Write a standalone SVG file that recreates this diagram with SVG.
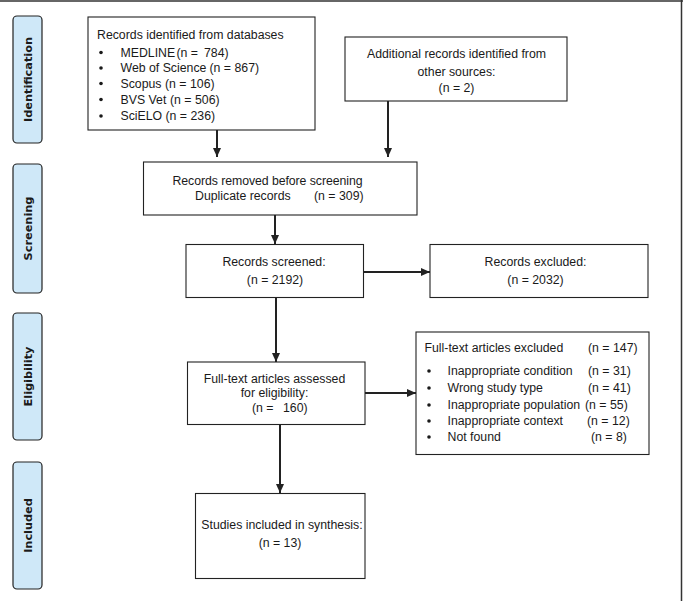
<svg xmlns="http://www.w3.org/2000/svg" width="683" height="601" viewBox="0 0 683 601">
<style>
.box{fill:#fff;stroke:#222;stroke-width:1.1}
.phase{fill:#cfe8f8;stroke:#222;stroke-width:1.2}
.t{font-family:"Liberation Sans",Arial,sans-serif;font-size:12.3px;fill:#1a1a1a}
.c{text-anchor:middle}
.pl{font-family:"DejaVu Sans","Liberation Sans",sans-serif;font-weight:bold;font-size:11.3px;fill:#1a1a1a;text-anchor:middle}
.ln{stroke:#222;stroke-width:2;fill:none}
</style>
<defs>
<marker id="ah" markerUnits="userSpaceOnUse" markerWidth="10" markerHeight="10" refX="9" refY="5" orient="auto">
<path d="M0,1 L9,5 L0,9 Z" fill="#222"/>
</marker>
</defs>
<rect width="683" height="601" fill="#fff"/>
<line x1="0" y1="1" x2="683" y2="1" stroke="#333" stroke-width="1.5"/>
<line x1="681.5" y1="0" x2="681.5" y2="601" stroke="#333" stroke-width="1.5"/>

<g id="phase-identification">
<rect class="phase" x="13" y="16" width="29" height="127" rx="4"/>
<text class="pl" transform="translate(31.5,79.5) rotate(-90)">Identification</text>
</g>
<g id="phase-screening">
<rect class="phase" x="13" y="164" width="29" height="129" rx="4"/>
<text class="pl" transform="translate(31.5,228.5) rotate(-90)">Screening</text>
</g>
<g id="phase-eligibility">
<rect class="phase" x="13" y="313" width="29" height="127" rx="4"/>
<text class="pl" transform="translate(31.5,376.5) rotate(-90)">Eligibility</text>
</g>
<g id="phase-included">
<rect class="phase" x="13" y="462" width="29" height="127" rx="4"/>
<text class="pl" transform="translate(31.5,525.5) rotate(-90)">Included</text>
</g>

<g id="databases">
<rect class="box" x="88" y="17" width="227" height="113"/>
<text class="t" x="97" y="38.5">Records identified from databases</text>
<g fill="#1a1a1a">
<circle cx="101" cy="52.5" r="1.8"/>
<circle cx="101" cy="68" r="1.8"/>
<circle cx="101" cy="83.5" r="1.8"/>
<circle cx="101" cy="99.5" r="1.8"/>
<circle cx="101" cy="116" r="1.8"/>
</g>
<text class="t" x="120.5" y="56.5">MEDLINE <tspan x="176.5">(n =</tspan><tspan x="204">784)</tspan></text>
<text class="t" x="120.5" y="72">Web of Science <tspan x="209.5">(n = 867)</tspan></text>
<text class="t" x="120.5" y="87.5">Scopus <tspan x="165">(n = 106)</tspan></text>
<text class="t" x="120.5" y="103.5">BVS Vet <tspan x="170">(n = 506)</tspan></text>
<text class="t" x="120.5" y="120">SciELO <tspan x="165.5">(n = 236)</tspan></text>
</g>

<g id="additional">
<rect class="box" x="345" y="37" width="222" height="64"/>
<text class="t c" x="456.5" y="58">Additional records identified from</text>
<text class="t c" x="456.5" y="75.5">other sources:</text>
<text class="t c" x="456.5" y="92">(n = 2)</text>
</g>

<g id="removed">
<rect class="box" x="143.5" y="162" width="273.5" height="53"/>
<text class="t" x="172.5" y="185" textLength="190">Records removed before screening</text>
<text class="t" x="195" y="200">Duplicate records</text>
<text class="t" x="314" y="200">(n = 309)</text>
</g>

<g id="screened">
<rect class="box" x="186" y="244.5" width="177.5" height="53"/>
<text class="t c" x="274" y="266">Records screened:</text>
<text class="t c" x="275" y="284">(n = 2192)</text>
</g>

<g id="excluded">
<rect class="box" x="430" y="244.5" width="218" height="53"/>
<text class="t c" x="535.5" y="266">Records excluded:</text>
<text class="t c" x="535.5" y="284">(n = 2032)</text>
</g>

<g id="assessed">
<rect class="box" x="187.5" y="362" width="177.5" height="62.5"/>
<text class="t c" x="274.5" y="382.5">Full-text articles assessed</text>
<text class="t c" x="274.5" y="397">for eligibility:</text>
<text class="t" x="252" y="412">(n =<tspan x="283">160)</tspan></text>
</g>

<g id="ft-excluded">
<rect class="box" x="416" y="332" width="233" height="122.5"/>
<text class="t" x="424.5" y="352">Full-text articles excluded</text>
<text class="t" x="588" y="352">(n = 147)</text>
<g fill="#1a1a1a">
<circle cx="429" cy="371" r="1.8"/>
<circle cx="429" cy="388" r="1.8"/>
<circle cx="429" cy="405" r="1.8"/>
<circle cx="429" cy="421" r="1.8"/>
<circle cx="429" cy="437" r="1.8"/>
</g>
<text class="t" x="447.5" y="375">Inappropriate condition</text>
<text class="t" x="588" y="375">(n = 31)</text>
<text class="t" x="447.5" y="392">Wrong study type</text>
<text class="t" x="588" y="392">(n = 41)</text>
<text class="t" x="447.5" y="409">Inappropriate population</text>
<text class="t" x="585" y="409">(n = 55)</text>
<text class="t" x="447.5" y="425">Inappropriate context</text>
<text class="t" x="587" y="425">(n = 12)</text>
<text class="t" x="447.5" y="441">Not found</text>
<text class="t" x="591" y="441">(n = 8)</text>
</g>

<g id="included">
<rect class="box" x="195.5" y="493.5" width="169.5" height="85"/>
<text class="t c" x="282" y="529">Studies included in synthesis:</text>
<text class="t c" x="280" y="547">(n = 13)</text>
</g>

<g id="connectors">
<line class="ln" x1="217" y1="130" x2="217" y2="157" marker-end="url(#ah)"/>
<line class="ln" x1="388" y1="101" x2="388" y2="157" marker-end="url(#ah)"/>
<line class="ln" x1="275" y1="215" x2="275" y2="244" marker-end="url(#ah)"/>
<line class="ln" x1="363.5" y1="272" x2="430" y2="272" marker-end="url(#ah)"/>
<line class="ln" x1="276" y1="297.5" x2="276" y2="362" marker-end="url(#ah)"/>
<line class="ln" x1="365" y1="393" x2="416" y2="393" marker-end="url(#ah)"/>
<line class="ln" x1="280" y1="424.5" x2="280" y2="493" marker-end="url(#ah)"/>
</g>
</svg>
